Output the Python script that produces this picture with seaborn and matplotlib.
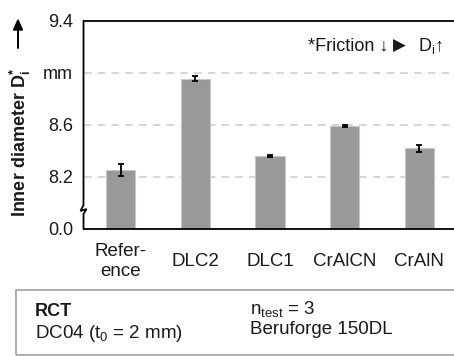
import matplotlib
matplotlib.use("Agg")
import matplotlib.pyplot as plt
import seaborn as sns
import pandas as pd
from matplotlib.patches import Rectangle

categories = ["Refer-\nence", "DLC2", "DLC1", "CrAlCN", "CrAlN"]
means = [8.255, 8.955, 8.36, 8.59, 8.42]
errors = [0.045, 0.017, 0.005, 0.01, 0.028]
ytick_vals = [7.8, 8.2, 8.6, 9.0, 9.4]
ytick_labels = ["0.0", "8.2", "8.6", "mm", "9.4"]

sns.set_theme(style="white")
plt.rcParams['font.family'] = ['Liberation Sans', 'DejaVu Sans']
plt.rcParams['mathtext.fontset'] = 'custom'
plt.rcParams['mathtext.rm'] = 'Liberation Sans'
plt.rcParams['mathtext.it'] = 'Liberation Sans'
plt.rcParams['mathtext.bf'] = 'Liberation Sans:bold'

TXT = "#1a1a1a"
W, H = 454, 356
fig = plt.figure(figsize=(W/100, H/100), dpi=100)
ax = fig.add_axes([83.5/W, 1-229/H, 373/W, (229-20.7)/H])

df = pd.DataFrame({"cat": categories, "val": means})
sns.barplot(data=df, x="cat", y="val", color="#999999", saturation=1,
            width=0.39, errorbar=None, edgecolor="#c8c8c8", linewidth=0.8, ax=ax)
ax.errorbar(range(len(categories)), means, yerr=errors, fmt="none",
            ecolor="black", elinewidth=1.3, capsize=2.4, capthick=1.3, zorder=5)

ax.set_ylim(7.8, 9.4)
ax.set_xlim(-0.5, 4.5)
ax.set_yticks(ytick_vals)
ax.set_yticklabels(ytick_labels, fontsize=13, color=TXT)
ax.tick_params(axis="y", length=0, pad=7.5)
ax.tick_params(axis="x", length=0, pad=23.5, labelsize=13.5, labelcolor=TXT)
for lab in ax.get_xticklabels():
    lab.set_verticalalignment("center")
    lab.set_linespacing(1.25)
ax.set_xlabel("")
ax.set_ylabel("")
for y in [8.2, 8.6, 9.0]:
    ax.axhline(y, color="#cccccc", linestyle=(0, (5, 4)), linewidth=1.1, zorder=0)

for s in ["top", "bottom", "right"]:
    ax.spines[s].set_color("black")
    ax.spines[s].set_linewidth(1.3)
ax.spines["left"].set_visible(False)

# broken left spine
ah = 229 - 20.7
def fy(py):
    return (229 - py) / ah
pts_x = [0, 0, -3/373, 3/373, 0, 0]
pts_y = [1, fy(205), fy(211), fy(209), fy(214), 0]
ax.plot(pts_x, pts_y, transform=ax.transAxes, color="black", lw=1.3,
        clip_on=False, zorder=6, solid_joinstyle="miter")

# y label with arrow
fig.text(20.5/W, 1-142/H, r"Inner diameter D$_\mathbf{i}^\mathbf{*}$", rotation=90,
         fontsize=13, fontweight="bold", ha="center", va="center", color=TXT)
fig.add_artist(plt.Line2D([18/W, 18/W], [1-48/H, 1-28/H], color="black", lw=1.4))
fig.add_artist(matplotlib.patches.FancyArrow(18/W, 1-30/H, 0, 0.0001,
               width=0, head_width=9/W, head_length=10/H, color="black",
               length_includes_head=False, transform=fig.transFigure))

# annotation
fig.text(388/W, 1-46/H, "*Friction ↓", ha="right", va="center", fontsize=13,
         color=TXT, family=['Liberation Sans', 'DejaVu Sans'])
fig.text(399.5/W, 1-46/H, "▶", ha="center", va="center", fontsize=12,
         color=TXT, family=['DejaVu Sans'])
fig.text(418/W, 1-46/H, "D$_\\mathrm{i}$↑", ha="left", va="center", fontsize=13,
         color=TXT, family=['Liberation Sans', 'DejaVu Sans'])

# bottom info box
fig.add_artist(Rectangle((16/W, 1-355/H), (W-16+5)/W, 65/H, transform=fig.transFigure,
                         fill=False, edgecolor="#a0a0a0", lw=1.2, clip_on=False))
fig.text(35/W, 1-312/H, "RCT", fontsize=13, fontweight="bold", va="center", color=TXT)
fig.text(35/W, 1-334/H, "DC04 (t$_0$ = 2 mm)", fontsize=13.5, va="center", color=TXT)
fig.text(250/W, 1-309/H, "n$_\\mathrm{test}$ = 3", fontsize=13.5, va="center", color=TXT)
fig.text(250/W, 1-330/H, "Beruforge 150DL", fontsize=13.5, va="center", color=TXT)

fig.savefig("out.png", dpi=100)
